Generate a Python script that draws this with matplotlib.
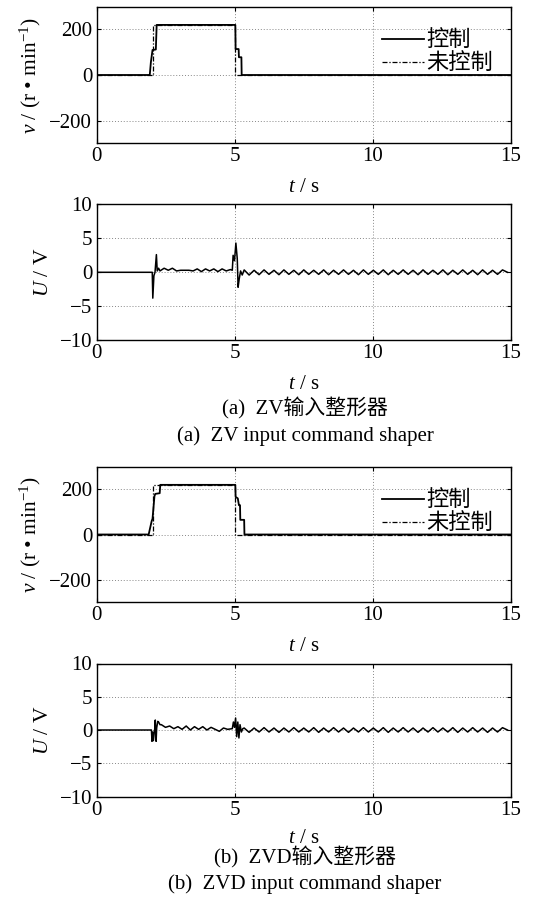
import numpy as np
import matplotlib
matplotlib.use("Agg")
import matplotlib.pyplot as plt

plt.rcParams['font.family'] = ['Liberation Serif', 'Noto Sans CJK SC']
plt.rcParams['mathtext.fontset'] = 'custom'
plt.rcParams['mathtext.rm'] = 'Liberation Serif'
plt.rcParams['mathtext.it'] = 'Liberation Serif:italic'
plt.rcParams['font.size'] = 15

# ---- (a) ZV shaper: speed ----
t_zv_ctrl = [0, 1.93, 1.97, 2.03, 2.15, 2.18, 5.03, 5.04, 5.15, 5.16, 5.25, 5.26, 15]
v_zv_ctrl = [0, 0, 56, 110, 112, 220, 220, 114, 114, 78, 78, 0, 0]
t_zv_unc = [0, 2.05, 2.05, 5.0, 5.0, 15]
v_zv_unc = [0, 0, 220, 220, 0, 0]

# ---- (a) ZV shaper: voltage ----
t_zv_u_start = [0, 2.02, 2.04, 2.08, 2.12, 2.17, 2.20, 2.25]
u_zv_start = [0, 0, -3.8, -0.5, 0.0, 2.6, 0.2, 0.6]
zv_pre_t0, zv_pre_dt = 2.30, 0.15
u_zv_pre = [0.2, 0.6, 0.3, 0.6, 0.2, 0.3, 0.3, 0.3, 0.2, 0.5, 0.1, 0.5,
            0.2, 0.5, 0.1, 0.5, 0.2, 0.4]
t_zv_u_mid = [4.92, 4.95, 5.0, 5.05, 5.10, 5.13, 5.17, 5.22, 5.28]
u_zv_mid = [0.3, 2.5, 1.7, 4.3, 2.0, -2.2, -1.0, 0.2, -0.4]
zv_post_t0, zv_post_dt = 5.35, 0.18
u_zv_post = [0.35, -0.4, 0.3, -0.35, 0.35, -0.3, 0.3, -0.35, 0.35, -0.3,
             0.3, -0.35, 0.35, -0.3, 0.3, -0.3, 0.35, -0.35, 0.3, -0.3,
             0.35, -0.3, 0.3, -0.35, 0.35, -0.3, 0.3, -0.3, 0.35, -0.35,
             0.3, -0.3, 0.35, -0.3, 0.3, -0.35, 0.35, -0.3, 0.3, -0.3,
             0.35, -0.35, 0.3, -0.3, 0.35, -0.3, 0.3, -0.35, 0.35, -0.3,
             0.3, -0.3, 0.35, 0.0]

# ---- (b) ZVD shaper: speed ----
t_zvd_ctrl = [0, 1.89, 2.00, 2.03, 2.10, 2.13, 2.29, 2.31, 5.03, 5.04, 5.12,
              5.16, 5.20, 5.21, 5.35, 5.36, 15]
v_zvd_ctrl = [0, 0, 60, 70, 170, 180, 183, 220, 220, 167, 160,
              130, 130, 65, 65, 0, 0]
t_zvd_unc = [0, 2.05, 2.05, 5.0, 5.0, 15]
v_zvd_unc = [0, 0, 220, 220, 0, 0]

# ---- (b) ZVD shaper: voltage ----
t_zvd_u_start = [0, 1.99, 2.01, 2.04, 2.06, 2.11, 2.13, 2.16, 2.18, 2.22, 2.25, 2.30]
u_zvd_start = [0, 0, -1.7, -0.3, -1.6, 0.2, 1.5, -1.7, 0.3, 1.3, 1.2, 0.8]
zvd_pre_t0, zvd_pre_dt = 2.35, 0.15
u_zvd_pre = [0.8, 0.4, 0.6, 0.2, 0.5, 0.1, 0.6, 0.0, 0.5, 0.1, 0.5, 0.0,
             0.4, 0.1, -0.2, 0.3, 0.1]
t_zvd_u_mid = [4.92, 4.96, 5.0, 5.04, 5.08, 5.12, 5.16, 5.2, 5.25, 5.3]
u_zvd_mid = [0.2, 1.2, 0.4, 1.8, -1.0, 1.2, -1.2, 0.8, -0.3, 0.2]
zvd_post_t0, zvd_post_dt = 5.35, 0.18
u_zvd_post = [0.3, -0.35, 0.3, -0.3, 0.35, -0.3, 0.3, -0.35, 0.3, -0.3,
              0.35, -0.3, 0.3, -0.3, 0.35, -0.35, 0.3, -0.3, 0.35, -0.3,
              0.3, -0.35, 0.3, -0.3, 0.35, -0.3, 0.3, -0.3, 0.35, -0.35,
              0.3, -0.3, 0.35, -0.3, 0.3, -0.35, 0.3, -0.3, 0.35, -0.3,
              0.3, -0.3, 0.35, -0.35, 0.3, -0.3, 0.35, -0.3, 0.3, -0.35,
              0.3, -0.3, 0.35, 0.0]


def join_u(t_start, u_start, pre_t0, pre_dt, u_pre, t_mid, u_mid, post_t0, post_dt, u_post):
    t_pre = pre_t0 + pre_dt * np.arange(len(u_pre))
    t_post = post_t0 + post_dt * np.arange(len(u_post))
    t = np.concatenate([t_start, t_pre, t_mid, t_post])
    u = np.concatenate([u_start, u_pre, u_mid, u_post])
    return t, u


W, H = 534, 917
fig = plt.figure(figsize=(W / 100, H / 100), dpi=100)
FS = 15


def make_ax(top, bottom):
    left, right = 96.5, 510.5
    return fig.add_axes([left / W, 1 - bottom / H, (right - left) / W, (bottom - top) / H])


def style(ax, ylim, yticks, xpad=8.5):
    ax.set_xlim(0, 15)
    ax.set_ylim(*ylim)
    ax.set_xticks([0, 5, 10, 15])
    ax.set_yticks(yticks)
    ax.grid(True, linestyle=(0, (1, 2)), color='#888888', linewidth=0.7)
    ax.tick_params(direction='in', top=True, right=True, length=3, labelsize=FS, pad=3)
    for s in ax.spines.values():
        s.set_linewidth(1.0)
    ax.set_xlabel(r'$t$ / s', fontsize=FS, labelpad=xpad)


def speed_plot(ax, tc, vc, tu, vu):
    ax.plot(tc, vc, color='black', linewidth=1.3, label='控制')
    ax.plot(tu, vu, color='black', linewidth=0.9, linestyle=(0, (4, 1.5, 1, 1.5)), label='未控制')
    style(ax, (-300, 300), [-200, 0, 200])
    ax.set_ylabel(r'$v$ / (r • min$^{-1}$)', fontsize=FS + 0.5, labelpad=5)
    ax.legend(loc='upper right', bbox_to_anchor=(0.995, 0.955), frameon=False,
              prop={'family': 'Noto Sans CJK SC', 'size': 16}, handlelength=1.9,
              handletextpad=0.1, labelspacing=0.0, borderpad=0.2)


def volt_plot(ax, t, u, xpad=8.5):
    ax.plot(t, u, color='black', linewidth=1.1)
    style(ax, (-10, 10), [-10, -5, 0, 5, 10], xpad)
    ax.set_ylabel(r'$U$ / V', fontsize=FS + 0.5, labelpad=5)


ax1 = make_ax(6.7, 143.3)
speed_plot(ax1, t_zv_ctrl, v_zv_ctrl, t_zv_unc, v_zv_unc)
ax2 = make_ax(204.3, 340.3)
volt_plot(ax2, *join_u(t_zv_u_start, u_zv_start, zv_pre_t0, zv_pre_dt, u_zv_pre,
                       t_zv_u_mid, u_zv_mid, zv_post_t0, zv_post_dt, u_zv_post))
ax3 = make_ax(466.8, 602.2)
speed_plot(ax3, t_zvd_ctrl, v_zvd_ctrl, t_zvd_unc, v_zvd_unc)
ax4 = make_ax(663.5, 796.5)
volt_plot(ax4, *join_u(t_zvd_u_start, u_zvd_start, zvd_pre_t0, zvd_pre_dt, u_zvd_pre,
                       t_zvd_u_mid, u_zvd_mid, zvd_post_t0, zvd_post_dt, u_zvd_post), xpad=6.5)

cx = 305 / W
fig.text(cx, 1 - 408 / H, '(a)  ZV输入整形器', ha='center', va='center', fontsize=FS)
fig.text(cx, 1 - 436 / H, '(a)  ZV input command shaper', ha='center', va='center', fontsize=FS)
fig.text(cx, 1 - 857 / H, '(b)  ZVD输入整形器', ha='center', va='center', fontsize=FS)
fig.text(cx, 1 - 884 / H, '(b)  ZVD input command shaper', ha='center', va='center', fontsize=FS)

fig.savefig('out.png', dpi=100, facecolor='white')
